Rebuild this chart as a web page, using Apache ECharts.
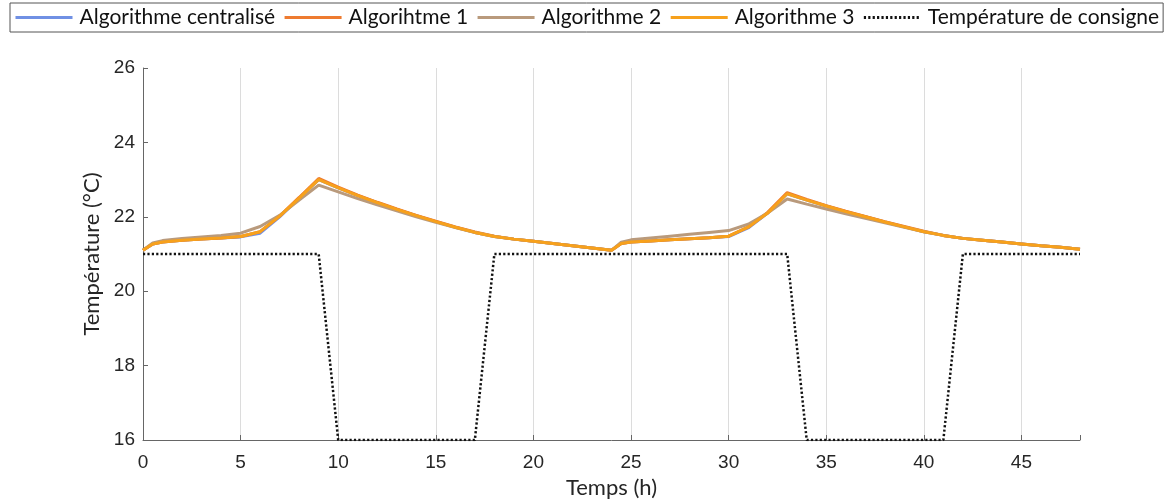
<!DOCTYPE html>
<html>
<head>
<meta charset="utf-8">
<script src="https://cdn.jsdelivr.net/npm/echarts@6/dist/echarts.min.js"></script>
<style>
  html, body { margin: 0; padding: 0; background: #fff; }
  #chart { width: 1169px; height: 499px; }
</style>
</head>
<body>
<div id="chart"></div>
<script>
// heures de simulation
const hours = [0, 0.5, 1, 2, 3, 4, 5, 6, 7, 8, 9, 10, 11, 12, 13, 14, 15, 16, 17, 18, 19, 20, 21, 22, 23, 24,
  24.5, 25, 26, 27, 28, 29, 30, 31, 32, 33, 34, 35, 36, 37, 38, 39, 40, 41, 42, 43, 44, 45, 46, 47, 48];

const centralise = [21.10, 21.27, 21.32, 21.37, 21.40, 21.43, 21.46, 21.56, 22.00, 22.50, 23.00, 22.78, 22.57, 22.38, 22.20, 22.03, 21.87, 21.72, 21.58, 21.47, 21.40, 21.34, 21.28, 21.22, 21.16, 21.10,
  21.28, 21.32, 21.35, 21.38, 21.41, 21.44, 21.47, 21.70, 22.10, 22.62, 22.45, 22.29, 22.14, 22.00, 21.86, 21.73, 21.60, 21.50, 21.42, 21.37, 21.32, 21.27, 21.22, 21.18, 21.13];

const algo1 = [21.10, 21.27, 21.32, 21.37, 21.40, 21.43, 21.47, 21.60, 22.02, 22.52, 23.03, 22.80, 22.58, 22.39, 22.21, 22.04, 21.88, 21.73, 21.59, 21.48, 21.40, 21.34, 21.28, 21.22, 21.16, 21.10,
  21.28, 21.32, 21.35, 21.38, 21.41, 21.44, 21.48, 21.72, 22.12, 22.65, 22.47, 22.30, 22.15, 22.01, 21.87, 21.74, 21.61, 21.50, 21.42, 21.37, 21.32, 21.27, 21.22, 21.18, 21.13];

const algo2 = [21.10, 21.30, 21.36, 21.42, 21.46, 21.50, 21.56, 21.74, 22.04, 22.45, 22.85, 22.67, 22.49, 22.32, 22.16, 22.00, 21.85, 21.71, 21.58, 21.47, 21.40, 21.34, 21.28, 21.22, 21.16, 21.10,
  21.32, 21.38, 21.43, 21.48, 21.53, 21.58, 21.63, 21.80, 22.10, 22.48, 22.34, 22.21, 22.08, 21.96, 21.84, 21.72, 21.60, 21.50, 21.42, 21.37, 21.32, 21.27, 21.22, 21.18, 21.13];

const algo3 = [21.10, 21.27, 21.32, 21.37, 21.40, 21.43, 21.47, 21.60, 22.02, 22.50, 23.00, 22.78, 22.57, 22.38, 22.20, 22.03, 21.87, 21.72, 21.58, 21.47, 21.40, 21.34, 21.28, 21.22, 21.16, 21.10,
  21.28, 21.32, 21.35, 21.38, 21.41, 21.44, 21.48, 21.72, 22.10, 22.62, 22.45, 22.29, 22.14, 22.00, 21.86, 21.73, 21.60, 21.50, 21.42, 21.37, 21.32, 21.27, 21.22, 21.18, 21.13];

// consigne
const consigneHeures = [0, 9, 10, 17, 18, 33, 34, 41, 42, 48];
const consigne = [21, 21, 16, 16, 21, 21, 16, 16, 21, 21];

const xTicks = [0, 5, 10, 15, 20, 25, 30, 35, 40, 45];

const pair = (xs, ys) => xs.map((x, i) => [x, ys[i]]);

const chart = echarts.init(document.getElementById('chart'));

const courbe = (name, data, color) => ({
  name: name,
  type: 'line',
  data: pair(hours, data),
  symbol: 'none',
  smooth: false,
  lineStyle: { color: color, width: 3 },
  itemStyle: { color: color }
});

// une ligne de grille grise par graduation, rien sur le bord droit
const gridColors = xTicks.map(() => '#dcdcdc').concat(['rgba(0,0,0,0)']);

const option = {
  animation: false,
  textStyle: { fontFamily: 'Liberation Sans, Arial, sans-serif' },
  legend: {
    top: 3,
    left: 10,
    borderColor: '#555',
    borderWidth: 1,
    padding: [4, 4, 4, 4],
    itemWidth: 57,
    itemHeight: 16,
    itemGap: 8,
    itemStyle: { opacity: 0 },
    lineStyle: { width: 3 },
    textStyle: { fontFamily: 'Lato, sans-serif', fontSize: 21, color: '#111', padding: [0, 0, 0, 2] },
    data: ['Algorithme centralisé', 'Algorihtme 1', 'Algorithme 2', 'Algorithme 3', 'Température de consigne']
  },
  grid: { left: 143, right: 89, top: 68, bottom: 59, outerBoundsMode: 'none', containLabel: false },
  xAxis: {
    type: 'value',
    min: 0,
    max: 48,
    interval: 5,
    name: 'Temps (h)',
    nameLocation: 'middle',
    nameGap: 37,
    nameTextStyle: { fontFamily: 'Lato, sans-serif', fontSize: 22, color: '#262626' },
    axisLine: { lineStyle: { color: '#666', width: 1 } },
    axisTick: { inside: true, length: 5, lineStyle: { color: '#666' } },
    axisLabel: {
      fontSize: 19, color: '#262626', margin: 13,
      formatter: v => (xTicks.indexOf(v) >= 0 ? String(v) : '')
    },
    splitLine: { show: true, lineStyle: { color: gridColors, width: 1 } }
  },
  yAxis: {
    type: 'value',
    min: 16,
    max: 26,
    interval: 2,
    name: 'Température (°C)',
    nameLocation: 'middle',
    nameGap: 32,
    nameTextStyle: { fontFamily: 'Lato, sans-serif', fontSize: 22, color: '#262626' },
    axisLine: { show: true, lineStyle: { color: '#666', width: 1 } },
    axisTick: { show: true, inside: true, length: 5, lineStyle: { color: '#666' } },
    axisLabel: { fontSize: 19, color: '#262626', margin: 8 },
    splitLine: { show: false }
  },
  series: [
    courbe('Algorithme centralisé', centralise, '#7090e4'),
    courbe('Algorihtme 1', algo1, '#ee7b30'),
    courbe('Algorithme 2', algo2, '#b99a7c'),
    courbe('Algorithme 3', algo3, '#f7a11c'),
    {
      name: 'Température de consigne',
      type: 'line',
      data: pair(consigneHeures, consigne),
      symbol: 'none',
      lineStyle: { color: '#111', width: 2.5, type: [2.2, 2.2] },
      itemStyle: { color: '#111' }
    }
  ]
};

chart.setOption(option);
</script>
</body>
</html>
